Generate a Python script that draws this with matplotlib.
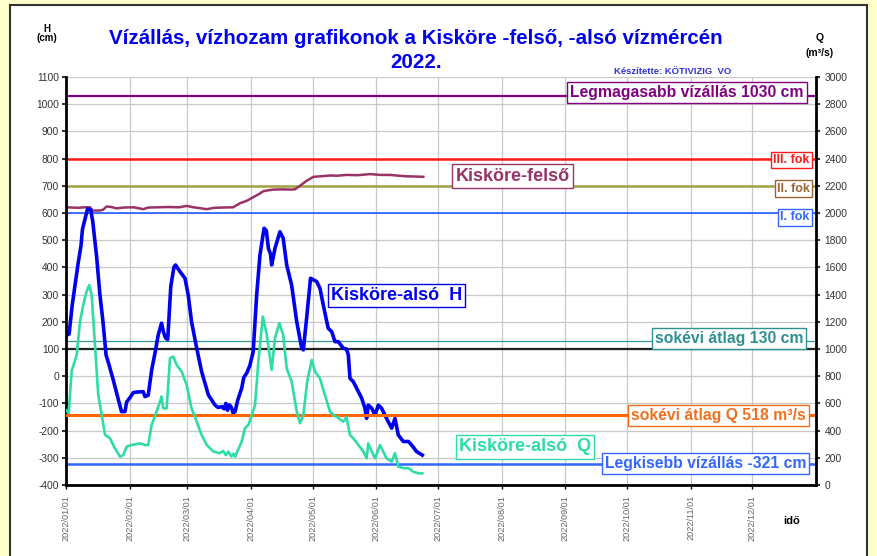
import numpy as np
import matplotlib
matplotlib.use("Agg")
import matplotlib.pyplot as plt
import matplotlib.dates as mdates
from matplotlib.patches import Rectangle
from matplotlib.ticker import MultipleLocator, FixedLocator

plt.rcParams['font.family'] = ['Liberation Sans', 'DejaVu Sans']
plt.rcParams['axes.unicode_minus'] = False

# --- data (days counted from 2022-01-01) ---
also_h_days = [0, 1.5, 3, 4.5, 6, 7.3, 8, 9, 10.5, 12, 13, 14.9, 16.5, 18, 19.5, 21, 23, 25.5, 27, 28.7,
               29.5, 31, 32.8, 35, 37.6, 38.4, 40, 41.7, 43.3, 44.9, 46.5, 47.5, 48.5, 49.5, 51, 52.5, 53.3,
               55.5, 57.9, 59.5, 61.1, 63.6, 66, 69.3, 72.5, 74, 75.8, 77, 77.8, 78.6, 79.5, 80.5, 81.3,
               82.3, 83.5, 85.5, 86.5, 88, 89.5, 91.1, 92.8, 94.4, 96.4, 97.5, 98.5, 99.5, 100.1, 101.7,
               104.1, 105.7, 107.4, 109.8, 112.3, 114.7, 115.5, 117.1, 119, 122, 123.6, 125.2, 127.6,
               129.3, 130.9, 132.5, 134.9, 136.5, 137.4, 138.2, 139.8, 142.3, 143.9, 145.5, 146.3, 147.1,
               148.8, 150.4, 152, 153.6, 155.2, 156.8, 158.5, 160.1, 161.7, 164.1, 166.6, 168.2, 170.6,
               173.4]
also_h_cm = [150, 155, 260, 340, 420, 480, 540, 570, 615, 612, 570, 440, 300, 200, 78, 40, -14, -87, -130, -130,
             -95, -80, -60, -58, -57, -75, -70, 23, 85, 152, 195, 160, 140, 135, 330, 400, 409,
             384, 360, 298, 200, 103, 17, -69, -106, -115, -112, -120, -100, -125, -105, -115, -135,
             -130, -90, -44, -5, 12, 40, 90, 299, 446, 544, 535, 470, 450, 409, 470,
             531, 507, 409, 335, 200, 103, 97, 213, 360, 348, 323, 262, 176,
             164, 127, 127, 103, 100, 78, -8, -20, -57, -81, -118, -155, -106,
             -118, -143, -106, -118, -143, -167, -191, -155, -216, -240, -240, -253, -277,
             -290]

also_q_days = [0, 1.3, 2.8, 5.2, 6.8, 8.4, 10, 11.3, 12.5, 14.1, 15.7, 17.4, 19, 21.4, 23.8, 26.3, 27.9,
               29.5, 31.9, 36, 38.4, 40, 41.7, 44.1, 45.7, 46.5, 47.3, 49, 50.6, 52.2, 53.9, 56.3, 58.7,
               61.1, 63.6, 66, 68.5, 71.7, 74.9, 76.5, 77.8, 79, 80.5, 81.5, 82.3, 85.5, 87.1, 88.8, 90.4,
               92, 93.6, 95.8, 97.7, 100.1, 101.7, 103.8, 105.7, 107.4, 109.8, 112.3, 113.9, 115.5, 117.4,
               119.6, 121.2, 123.6, 126, 128.5, 130.5, 132, 133.5, 135, 136.5, 138.2, 139.8, 142.3, 144.7,
               146.3, 147.1, 148.8, 150.4, 152.8, 154.4, 156, 158.5, 160.1, 161.7, 164.1, 166.6, 169,
               171.5, 173.4]
also_q_m3s = [550, 530, 840, 956, 1200, 1324, 1422, 1470, 1396, 1030, 662, 514, 368, 344, 270, 208, 220,
              282, 294, 306, 294, 294, 442, 540, 612, 650, 564, 564, 932, 944, 882, 834, 736,
              564, 466, 368, 294, 246, 234, 250, 220, 245, 210, 230, 208, 320, 418, 442, 514,
              588, 906, 1238, 1104, 846, 1080, 1190, 1104, 858, 760, 540, 454, 514, 760,
              920, 834, 784, 662, 540, 510, 500, 480, 466, 500, 368, 344, 294, 246,
              196, 306, 246, 196, 294, 246, 196, 172, 234, 136, 124, 124, 98,
              86, 86]

felso_days = [0, 3, 6, 9, 11.7, 13, 16.4, 18, 19.8, 22, 24.6, 28, 32.8, 35, 37.6, 40, 45, 50, 55, 58.7,
              62, 65, 68.5, 72, 76, 81.4, 84.7, 88, 91.1, 94, 96, 98, 100.9, 105.7, 109, 111.4, 113.9,
              117, 120.4, 124, 128.5, 132, 136.6, 142, 148, 153, 157.7, 162, 165.8, 170, 173.9]
felso_cm = [621, 620, 619, 621, 621, 609, 609, 612, 624, 622, 617, 620, 621, 618, 614, 620, 621, 622, 621, 626,
            621, 618, 614, 619, 620, 621, 636, 645, 658, 670, 680, 683, 686, 687, 686, 687, 700,
            718, 733, 735, 738, 737, 740, 739, 743, 740, 740, 737, 735, 734, 733]

lnv_cm = 1030
fok3_cm = 800
fok2_cm = 700
fok1_cm = 600
kov_cm = 130
ref_cm = 100
kq_m3s = 518
knv_cm = -321

base = mdates.datestr2num('2022-01-01')
end = mdates.datestr2num('2023-01-01')

W, H = 878, 556
fig = plt.figure(figsize=(W / 100, H / 100), dpi=100, facecolor='#FFFFCC')
fig.patches.append(Rectangle((10 / W, -0.02), (867 - 10) / W, (556 - 5) / H + 0.02,
                             transform=fig.transFigure, facecolor='white',
                             edgecolor='#333333', lw=1.5, zorder=-10))

ax = fig.add_axes([66 / W, 1 - 485 / H, 750 / W, 408 / H])
ax.set_facecolor('white')
ax.set_xlim(base, end)
ax.set_ylim(-400, 1100)
ax.yaxis.set_major_locator(MultipleLocator(100))
month_ticks = mdates.MonthLocator().tick_values(mdates.num2date(base), mdates.num2date(end))
ax.xaxis.set_major_locator(FixedLocator([t for t in month_ticks if t < end - 1]))
ax.xaxis.set_major_formatter(mdates.DateFormatter('%Y/%m/%d'))
ax.grid(True, color='#C8C8C8', lw=0.9)
ax.set_axisbelow(True)
for s in ['left', 'bottom']:
    ax.spines[s].set_linewidth(2)
ax.spines['top'].set_visible(False)
ax.spines['right'].set_visible(False)
ax.tick_params(axis='y', labelsize=7.4, colors='#333333', length=3, width=1.5, pad=2)
ax.tick_params(axis='x', labelsize=6.6, labelcolor='#666666', length=3, width=1, pad=4,
               labelrotation=90)

ax2 = ax.twinx()
ax2.set_ylim(0, 3000)
ax2.yaxis.set_major_locator(MultipleLocator(200))
ax2.spines['right'].set_linewidth(2)
ax2.spines['top'].set_visible(False)
ax2.spines['left'].set_visible(False)
ax2.spines['bottom'].set_visible(False)
ax2.tick_params(axis='y', labelsize=7.4, colors='#333333', length=3, width=1.5, pad=3)

# reference levels
ax.axhline(lnv_cm, color='#800080', lw=1.6)
ax.axhline(fok3_cm, color='#FF1A1A', lw=1.8)
ax.axhline(fok2_cm, color='#A3A040', lw=1.8)
ax.axhline(fok1_cm, color='#3366FF', lw=1.3)
ax.axhline(kov_cm, color='#339999', lw=0.9)
ax.axhline(ref_cm, color='#222222', lw=1.6)
ax.axhline(knv_cm, color='#3366FF', lw=1.8)
ax2.axhline(kq_m3s, color='#FF6600', lw=2.2)

# series
ax.plot(base + np.array(felso_days), felso_cm, color='#993366', lw=1.8)
ax.plot(base + np.array(also_h_days), also_h_cm, color='#0000F0', lw=2.6)
ax2.plot(base + np.array(also_q_days), also_q_m3s, color='#2FDCA8', lw=1.9)

def label(day, h, text, color, size, ha='center', edge=None):
    ax2.text(base + day, h, text, transform=ax.transData, ha=ha, va='center',
             color=color, fontsize=size, fontweight='bold', zorder=20,
             bbox=dict(boxstyle='square,pad=0.18', facecolor='white',
                       edgecolor=edge or color, lw=1))

label(302.2, 1044, 'Legmagasabb vízállás 1030 cm', '#800080', 11.3)
label(217.3, 736, 'Kisköre-felső', '#993366', 13)
label(362, 795, 'III. fok', '#FF1A1A', 9, ha='right')
label(362, 690, 'II. fok', '#996633', 9, ha='right')
label(362, 584, 'I. fok', '#3366FF', 9, ha='right')
label(160.8, 297, 'Kisköre-alsó  H', '#0000F0', 13)
label(322.7, 138, 'sokévi átlag 130 cm', '#2E9090', 11.3)
label(317.6, -144, 'sokévi átlag Q 518 m³/s', '#F07020', 11.3)
label(223.4, -260, 'Kisköre-alsó  Q', '#2FDCA8', 13)
label(311.3, -322, 'Legkisebb vízállás -321 cm', '#3366FF', 11.3)

# titles and axis captions
fig.text(416 / W, 1 - 38 / H, 'Vízállás, vízhozam grafikonok a Kisköre -felső, -alsó vízmércén',
         ha='center', va='center', color='#0000EE', fontsize=14.8, fontweight='bold')
fig.text(416 / W, 1 - 62 / H, '2022.', ha='center', va='center', color='#0000EE',
         fontsize=14.8, fontweight='bold')
fig.text(673 / W, 1 - 71 / H, 'Készítette: KÖTIVIZIG  VO', ha='center', va='center',
         color='#3333DD', fontsize=6.8, fontweight='bold')
fig.text(47 / W, 1 - 29 / H, 'H', ha='center', va='center', fontsize=7, fontweight='bold')
fig.text(47 / W, 1 - 38 / H, '(cm)', ha='center', va='center', fontsize=7, fontweight='bold')
fig.text(820 / W, 1 - 38 / H, 'Q', ha='center', va='center', fontsize=7.5, fontweight='bold')
fig.text(820 / W, 1 - 53 / H, '(m³/s)', ha='center', va='center', fontsize=7.5, fontweight='bold')
fig.text(792 / W, 1 - 521 / H, 'idő', ha='center', va='center', fontsize=8, fontweight='bold')

fig.savefig('out.png', dpi=100, facecolor=fig.get_facecolor())
